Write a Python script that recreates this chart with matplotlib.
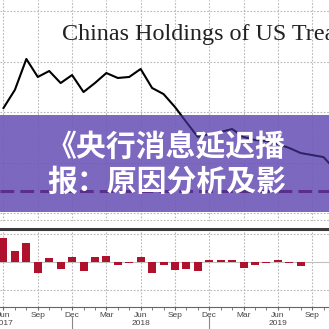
import matplotlib
matplotlib.use('Agg')
import matplotlib.pyplot as plt
from matplotlib.patches import Rectangle

# data (month 0 = Jun 2017)
months = list(range(30))
holdings = [1154, 1172, 1202.5, 1184.7, 1190.6, 1178.7, 1186.6, 1169.8, 1178.7, 1188.6,
            1183.7, 1184.7, 1192.6, 1173.8, 1167.8, 1155, 1140, 1125.3, 1128.2, 1130.2,
            1133.2, 1125.3, 1122.3, 1121.3, 1118.3, 1114.4, 1109.4, 1107.4, 1105.4, 1093]
change = [42, 19, 33, -19, 7, -12, 9, -16, 9, 10,
          -5, -1, 9, -20, -5, -14, -12, -16, 3, 3,
          4, -10, -6, -1.5, 3, -1, -7, -0.5, 0.5, 0.3]
tick_pos = [0, 3, 6, 9, 12, 15, 18, 21, 24, 27]
tick_labels = ['Jun', 'Sep', 'Dec', 'Mar', 'Jun', 'Sep', 'Dec', 'Mar', 'Jun', 'Sep']
years = ['2017', '2018', '2019']
year_pos = [0, 12, 24]
year_breaks = [6, 18]
ref_level = 1071.8
title = 'Chinas Holdings of US Treasuries'
banner_lines = ['《央行消息延迟播', '报：原因分析及影']

grid_kw = dict(color='#b8b8b8', linestyle=(0, (1.5, 1.5)), linewidth=0.8)
xlim = (-0.306, 28.48)

fig = plt.figure(figsize=(3.29, 3.29), dpi=100)
fig.patch.set_facecolor('white')

# top panel: holdings
ax = fig.add_axes([0, 1 - 221 / 329, 1, 221 / 329])
ax.set_xlim(*xlim)
ax.set_ylim(1042.1, 1260.9)
for s in ax.spines.values():
    s.set_visible(False)
ax.set_xticks(tick_pos)
ax.set_yticks([1050, 1100, 1150, 1200, 1250])
ax.tick_params(length=0, labelbottom=False, labelleft=False)
ax.grid(True, **grid_kw)
ax.axhline(1043.5, **grid_kw)
ax.plot(months, holdings, color='black', linewidth=1.5, zorder=2)

banner = Rectangle((0, 9 / 221), 1, 97 / 221, transform=ax.transAxes,
                   facecolor='#6f58ba', edgecolor='none', alpha=0.9, zorder=3)
ax.add_patch(banner)
inner, = ax.plot(months, holdings, color='#2b2360', linewidth=1.3, zorder=4)
inner.set_clip_path(banner)
ax.axhline(ref_level, color='#5a2e8c', linewidth=2.2, linestyle=(0, (4.5, 2)), zorder=4)

fig.text(62 / 329, 1 - 40 / 329, title, family='Liberation Serif', fontsize=17.4,
         color='#222222', va='baseline', ha='left')

for i, line in enumerate(banner_lines):
    fig.text(47 / 329, 1 - (147 + 35 * i) / 329, line, family=['Noto Sans CJK SC', 'DejaVu Sans'],
             fontsize=21.5, fontweight='black', color='white', ha='left', va='center', zorder=10)

# bottom panel: monthly change
bx = fig.add_axes([0, 1 - 307 / 329, 1, 78 / 329])
bx.set_xlim(*xlim)
bx.set_ylim(-79, 58)
bx.set_yticks([-50, 50])
bx.set_xticks(tick_pos)
bx.set_xticks(months[:29], minor=True)
bx.grid(True, **grid_kw)
bx.set_axisbelow(True)
bx.axhline(0, color='#c0c0c0', linewidth=0.8, zorder=1)
bx.bar(months, change, width=0.7, color='#b0122e', zorder=2)
for side in ['left', 'right']:
    bx.spines[side].set_visible(False)
bx.spines['top'].set_color('#3a3a3a')
bx.spines['top'].set_linewidth(2.2)
bx.spines['bottom'].set_color('#666666')
bx.spines['bottom'].set_linewidth(0.8)
bx.tick_params(axis='y', length=0, labelleft=False)
bx.tick_params(axis='x', which='both', direction='out', length=2.5, color='#666666',
               labelsize=6, labelcolor='#444444', pad=1)
bx.set_xticklabels(tick_labels, family='Liberation Sans')
for y, p in zip(years, year_pos):
    bx.text(p, -0.21, y, transform=bx.get_xaxis_transform(), ha='center', va='center',
            fontsize=6, color='#444444', family='Liberation Sans', clip_on=False)
for p in year_breaks:
    bx.plot([p, p], [-0.12, -0.35], transform=bx.get_xaxis_transform(), color='#888888',
            linewidth=0.8, clip_on=False)

fig.savefig('out.png', dpi=100)
